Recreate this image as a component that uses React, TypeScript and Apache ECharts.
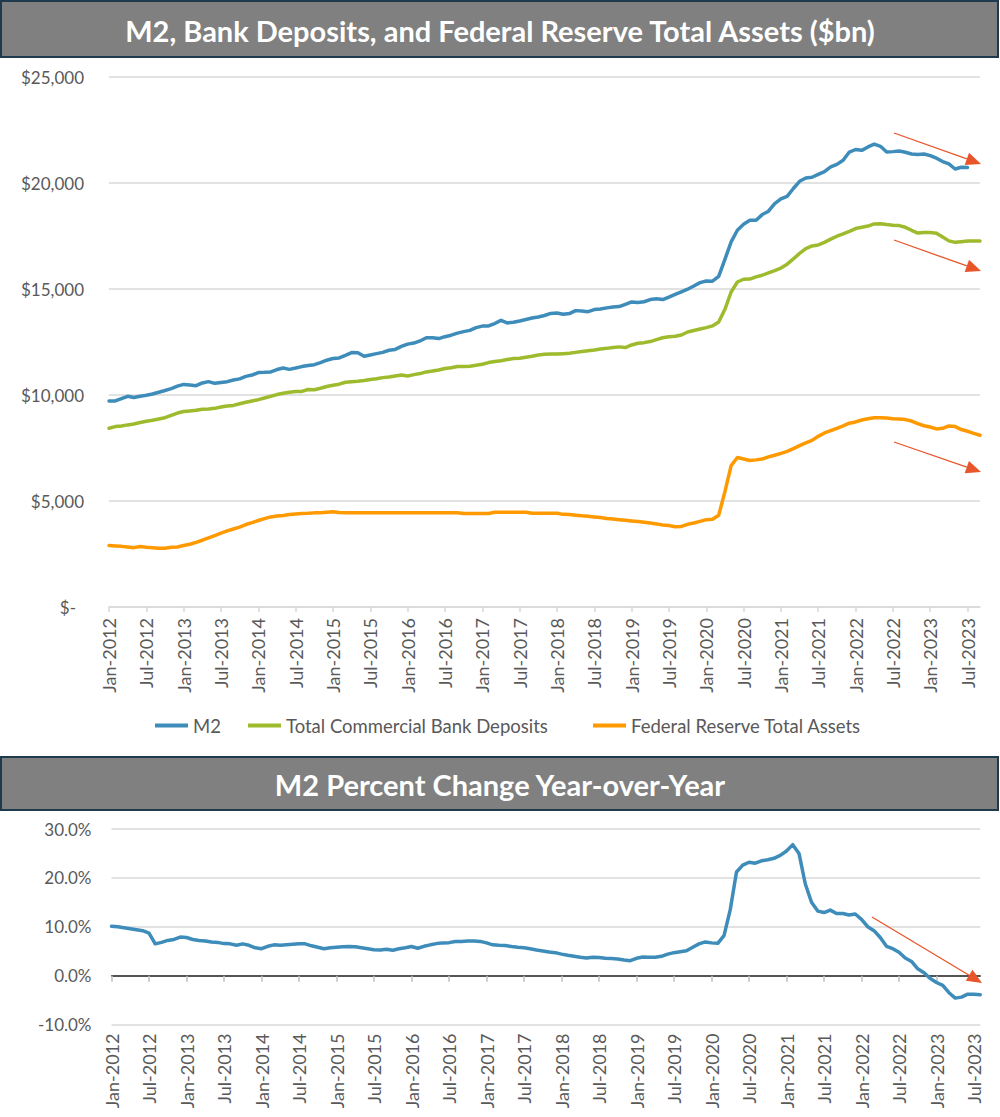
import React, { useEffect, useRef } from "react";
import * as echarts from "echarts";

const MONTH_NAMES = ["Jan", "Feb", "Mar", "Apr", "May", "Jun", "Jul", "Aug", "Sep", "Oct", "Nov", "Dec"];
const START_YEAR = 2012;
const TOP_MONTH_COUNT = 141; // Jan-2012 .. Sep-2023
const BOTTOM_MONTH_COUNT = 140; // Jan-2012 .. Aug-2023

function monthLabels(startYear: number, count: number): string[] {
  const out: string[] = [];
  for (let i = 0; i < count; i++) {
    out.push(MONTH_NAMES[i % 12] + "-" + (startYear + Math.floor(i / 12)));
  }
  return out;
}

const topCategories = monthLabels(START_YEAR, TOP_MONTH_COUNT);
const bottomCategories = monthLabels(START_YEAR, BOTTOM_MONTH_COUNT);

const SERIES_NAMES = ["M2", "Total Commercial Bank Deposits", "Federal Reserve Total Assets"];
const YOY_NAME = "M2 Percent Change Year-over-Year";

// M2, $bn (Jan-2012 .. Jul-2023)
const m2 = [
  9720, 9720, 9830, 9940, 9880, 9940, 9990, 10050, 10130, 10210, 10300, 10420,
  10500, 10470, 10440, 10570, 10630, 10550, 10590, 10630, 10710, 10760, 10880, 10940,
  11060, 11070, 11090, 11200, 11270, 11210, 11270, 11340, 11390, 11430, 11530, 11640,
  11720, 11750, 11870, 12000, 11990, 11830, 11890, 11950, 12010, 12110, 12150, 12290,
  12400, 12450, 12550, 12700, 12700, 12660, 12750, 12820, 12920, 12990, 13050, 13180,
  13250, 13260, 13370, 13520, 13400, 13430, 13490, 13560, 13630, 13680, 13750, 13850,
  13870, 13810, 13840, 13980, 13960, 13930, 14030, 14060, 14110, 14150, 14170, 14280,
  14390, 14360, 14400, 14500, 14540, 14500, 14620, 14750, 14870, 14990, 15140, 15300,
  15380, 15370, 15600, 16400, 17220, 17770, 18050, 18240, 18240, 18510, 18670, 19030,
  19250, 19370, 19740, 20080, 20240, 20270, 20410, 20540, 20760, 20880, 21070, 21460,
  21580, 21540, 21700, 21830, 21730, 21460, 21480, 21510, 21450, 21370, 21340, 21370,
  21290, 21170, 21010, 20900, 20660, 20740, 20730,
];

// Total Commercial Bank Deposits, $bn (Jan-2012 .. Sep-2023)
const deposits = [
  8430, 8510, 8540, 8590, 8630, 8700, 8760, 8810, 8870, 8930, 9040, 9150,
  9220, 9250, 9280, 9330, 9340, 9370, 9430, 9480, 9510, 9590, 9660, 9720,
  9780, 9860, 9940, 10020, 10080, 10130, 10160, 10170, 10260, 10250, 10320, 10400,
  10460, 10510, 10600, 10630, 10650, 10680, 10730, 10770, 10820, 10850, 10900, 10940,
  10900, 10960, 11010, 11090, 11130, 11180, 11250, 11290, 11340, 11340, 11360, 11400,
  11450, 11530, 11580, 11620, 11670, 11720, 11730, 11780, 11830, 11890, 11920, 11930,
  11930, 11950, 11970, 12010, 12050, 12090, 12120, 12170, 12200, 12240, 12270, 12240,
  12360, 12440, 12470, 12520, 12610, 12700, 12750, 12770, 12830, 12970, 13040, 13110,
  13180, 13260, 13440, 14040, 14860, 15330, 15460, 15470, 15570, 15650, 15760, 15870,
  15990, 16170, 16420, 16680, 16910, 17030, 17080, 17200, 17350, 17490, 17600, 17720,
  17850, 17910, 17970, 18070, 18080, 18040, 18010, 17990, 17910, 17770, 17640, 17670,
  17660, 17630, 17450, 17270, 17200, 17230, 17260, 17270, 17270,
];

// Federal Reserve Total Assets, $bn (Jan-2012 .. Sep-2023)
const fedAssets = [
  2900, 2880, 2860, 2830, 2800, 2850, 2820, 2800, 2770, 2770, 2820, 2830,
  2900, 2960, 3050, 3150, 3260, 3370, 3480, 3590, 3680, 3770, 3890, 3980,
  4080, 4170, 4250, 4290, 4320, 4360, 4390, 4410, 4420, 4440, 4450, 4470,
  4490, 4460, 4450, 4450, 4450, 4450, 4450, 4450, 4450, 4450, 4450, 4450,
  4450, 4450, 4450, 4450, 4450, 4450, 4450, 4450, 4450, 4410, 4410, 4410,
  4410, 4410, 4470, 4470, 4470, 4470, 4470, 4470, 4420, 4420, 4420, 4420,
  4420, 4370, 4360, 4330, 4300, 4280, 4250, 4220, 4170, 4150, 4120, 4090,
  4060, 4030, 4000, 3960, 3920, 3870, 3840, 3790, 3800, 3900, 3960, 4040,
  4120, 4140, 4330, 5440, 6670, 7050, 6980, 6910, 6940, 6980, 7080, 7160,
  7250, 7340, 7470, 7610, 7740, 7860, 8050, 8210, 8320, 8430, 8540, 8670,
  8730, 8820, 8880, 8930, 8930, 8920, 8880, 8870, 8840, 8770, 8650, 8550,
  8490, 8400, 8430, 8540, 8510, 8370, 8290, 8190, 8100,
];

// M2 percent change year-over-year, % (Jan-2012 .. Aug-2023)
const m2Yoy = [
  10.1, 10.0, 9.8, 9.6, 9.4, 9.2, 8.7, 6.5, 6.8, 7.2, 7.4, 7.9,
  7.8, 7.4, 7.2, 7.1, 6.9, 6.8, 6.55, 6.5, 6.2, 6.5, 6.2, 5.7,
  5.5, 6.0, 6.3, 6.2, 6.3, 6.4, 6.5, 6.5, 6.1, 5.8, 5.5, 5.7,
  5.8, 5.9, 5.95, 5.9, 5.7, 5.5, 5.3, 5.25, 5.4, 5.2, 5.5, 5.7,
  5.95, 5.6, 6.0, 6.3, 6.55, 6.7, 6.75, 7.0, 7.0, 7.1, 7.1, 7.0,
  6.7, 6.3, 6.2, 6.15, 5.95, 5.8, 5.7, 5.5, 5.25, 5.05, 4.85, 4.7,
  4.4, 4.15, 3.95, 3.75, 3.6, 3.75, 3.7, 3.55, 3.5, 3.4, 3.2, 3.05,
  3.55, 3.8, 3.75, 3.75, 3.95, 4.4, 4.7, 4.9, 5.1, 5.8, 6.5, 6.9,
  6.7, 6.6, 8.2, 13.5, 21.2, 22.6, 23.2, 23.0, 23.5, 23.7, 24.0, 24.6,
  25.5, 26.8, 25.0, 18.8, 15.0, 13.2, 12.9, 13.4, 12.7, 12.7, 12.4, 12.6,
  11.5, 10.0, 9.2, 7.8, 6.0, 5.5, 4.8, 3.6, 2.9, 1.4, 0.6, -0.6,
  -1.4, -2.0, -3.5, -4.6, -4.4, -3.8, -3.8, -3.9,
];

const TOP_TITLE = "M2, Bank Deposits, and Federal Reserve Total Assets ($bn)";
const BOTTOM_TITLE = "M2 Percent Change Year-over-Year";

const COLORS = { m2: "#3D8CBA", deposits: "#9DBB2D", fed: "#FF9900" };
const LABEL_COLOR = "#595959";
const GRID_COLOR = "#D9D9D9";
const ARROW_COLOR = "#E8552A";
const FONT = "Lato";

function arrow(x1: number, y1: number, x2: number, y2: number) {
  const dx = x2 - x1;
  const dy = y2 - y1;
  const len = Math.sqrt(dx * dx + dy * dy);
  const ux = dx / len;
  const uy = dy / len;
  const headLen = 15;
  const halfW = 6.5;
  const bx = x2 - ux * headLen;
  const by = y2 - uy * headLen;
  return [
    {
      type: "line",
      shape: { x1, y1, x2: bx, y2: by },
      style: { stroke: ARROW_COLOR, lineWidth: 1.3 },
      z: 100,
    },
    {
      type: "polygon",
      shape: {
        points: [
          [x2, y2],
          [bx - uy * halfW, by + ux * halfW],
          [bx + uy * halfW, by - ux * halfW],
        ],
      },
      style: { fill: ARROW_COLOR },
      z: 100,
    },
  ];
}

function titleBar(y: number, h: number, text: string) {
  return [
    {
      type: "rect",
      shape: { x: 1, y, width: 997, height: h },
      style: { fill: "#808080", stroke: "#1F3A4D", lineWidth: 2 },
      z: 50,
    },
    {
      type: "text",
      x: 500,
      y: y + h / 2 + 1,
      style: {
        text,
        fill: "#FFFFFF",
        fontSize: 29,
        fontWeight: "bold",
        fontFamily: FONT,
        align: "center",
        verticalAlign: "middle",
      },
      z: 51,
    },
  ];
}

function lineSeries(name: string, data: number[], color: string, xAxisIndex: number, yAxisIndex: number) {
  return {
    name,
    type: "line",
    data,
    xAxisIndex,
    yAxisIndex,
    symbol: "none",
    showSymbol: false,
    color,
    lineStyle: { color, width: 3.5, cap: "round", join: "round" },
    emphasis: { disabled: true },
  };
}

function legendItem(name: string, left: number) {
  return {
    data: [name],
    left,
    top: 711,
    icon: "rect",
    itemWidth: 33,
    itemHeight: 4,
    itemGap: 0,
    selectedMode: false,
    textStyle: { color: LABEL_COLOR, fontSize: 18.5, fontFamily: FONT },
  };
}

export default function App() {
  const ref = useRef<HTMLDivElement>(null);

  useEffect(() => {
    if (!ref.current) return;
    const chart = echarts.init(ref.current, undefined, { renderer: "svg" });
    const axisLabelBase = { color: LABEL_COLOR, fontFamily: FONT };

    const option = {
      animation: false,
      textStyle: { fontFamily: FONT },
      grid: [
        { left: 109, top: 77, width: 871, height: 530 },
        { left: 111.5, top: 829, width: 868.75, height: 195.5 },
      ],
      legend: [
        legendItem(SERIES_NAMES[0], 150),
        legendItem(SERIES_NAMES[1], 243),
        legendItem(SERIES_NAMES[2], 588),
      ],
      xAxis: [
        {
          gridIndex: 0,
          type: "category",
          data: topCategories,
          boundaryGap: false,
          axisLine: { lineStyle: { color: GRID_COLOR, width: 1.5 } },
          axisTick: { interval: 5, length: 5, lineStyle: { color: GRID_COLOR, width: 1.5 } },
          axisLabel: { ...axisLabelBase, interval: 5, rotate: 90, margin: 11, fontSize: 18 },
          splitLine: { show: false },
        },
        {
          gridIndex: 1,
          type: "category",
          data: bottomCategories,
          boundaryGap: false,
          axisLine: { onZero: true, lineStyle: { color: "#262626", width: 1.5 } },
          axisTick: { interval: 5, length: 6, lineStyle: { color: "#BFBFBF", width: 1.5 } },
          axisLabel: { show: false },
          splitLine: { show: false },
        },
        {
          gridIndex: 1,
          type: "category",
          data: bottomCategories,
          boundaryGap: false,
          position: "bottom",
          axisLine: { show: false, onZero: false },
          axisTick: { show: false },
          axisLabel: { ...axisLabelBase, interval: 5, rotate: 90, margin: 9, fontSize: 18 },
          splitLine: { show: false },
        },
      ],
      yAxis: [
        {
          gridIndex: 0,
          type: "value",
          min: 0,
          max: 25000,
          interval: 5000,
          axisLine: { show: false },
          axisTick: { show: false },
          splitLine: { lineStyle: { color: GRID_COLOR, width: 1.5 } },
          axisLabel: {
            ...axisLabelBase,
            fontSize: 17,
            margin: 25,
            formatter: (v: number) => (v === 0 ? "{z|$-}" : "$" + v.toLocaleString("en-US")),
            rich: { z: { color: LABEL_COLOR, fontSize: 17, fontFamily: FONT, padding: [0, 8, 0, 0] } },
          },
        },
        {
          gridIndex: 1,
          type: "value",
          min: -10,
          max: 30,
          interval: 10,
          axisLine: { show: false },
          axisTick: { show: false },
          splitLine: { lineStyle: { color: GRID_COLOR, width: 1.5 } },
          axisLabel: {
            ...axisLabelBase,
            fontSize: 17,
            margin: 20,
            formatter: (v: number) => v.toFixed(1) + "%",
          },
        },
      ],
      series: [
        lineSeries(SERIES_NAMES[0], m2, COLORS.m2, 0, 0),
        lineSeries(SERIES_NAMES[1], deposits, COLORS.deposits, 0, 0),
        lineSeries(SERIES_NAMES[2], fedAssets, COLORS.fed, 0, 0),
        lineSeries(YOY_NAME, m2Yoy, COLORS.m2, 1, 1),
      ],
      graphic: [
        ...titleBar(1, 56, TOP_TITLE),
        ...titleBar(757, 53, BOTTOM_TITLE),
        ...arrow(894, 133, 981, 164),
        ...arrow(894, 240, 981, 271),
        ...arrow(894, 442, 981, 472),
        ...arrow(872, 917, 982, 983),
      ],
    };

    chart.setOption(option as any);
    return () => chart.dispose();
  }, []);

  return (
    <div
      ref={ref}
      style={{ position: "absolute", left: 0, top: 0, width: 1000, height: 1117, background: "#FFFFFF" }}
    />
  );
}
